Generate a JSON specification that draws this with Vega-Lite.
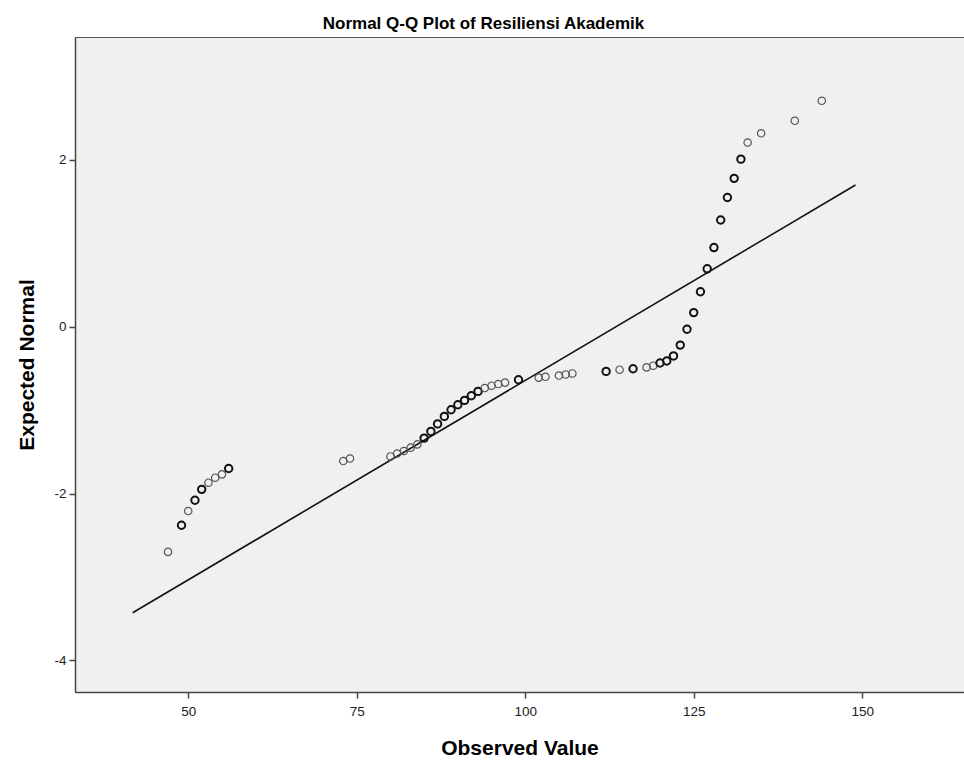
{
  "$schema": "https://vega.github.io/schema/vega-lite/v6.json",
  "autosize": {"type": "none"},
  "width": 889,
  "height": 655,
  "padding": {"left": 75, "top": 37, "right": 0, "bottom": 74},
  "background": "#ffffff",
  "title": {
    "text": "Normal Q-Q Plot of Resiliensi Akademik",
    "font": "Liberation Sans",
    "fontSize": 17,
    "fontWeight": "bold",
    "color": "#000000",
    "anchor": "middle",
    "dx": -36,
    "dy": 22,
    "baseline": "bottom",
    "offset": 9
  },
  "config": {
    "view": {"fill": "#f0f0f0", "stroke": "#555555", "strokeWidth": 1},
    "axis": {
      "grid": false,
      "labelFont": "Liberation Sans",
      "labelFontSize": 13.5,
      "labelColor": "#222222",
      "titleFont": "Liberation Sans",
      "titleFontSize": 21,
      "titleFontWeight": "bold",
      "titleColor": "#000000",
      "domainColor": "#444444",
      "domainWidth": 1.5,
      "tickColor": "#444444",
      "tickWidth": 1.5,
      "tickSize": 6
    }
  },
  "datasets": {
    "points": [
      {"observed": 47, "expected": -2.70, "cases": 1},
      {"observed": 49, "expected": -2.38, "cases": 2},
      {"observed": 50, "expected": -2.21, "cases": 1},
      {"observed": 51, "expected": -2.08, "cases": 2},
      {"observed": 52, "expected": -1.95, "cases": 2},
      {"observed": 53, "expected": -1.87, "cases": 1},
      {"observed": 54, "expected": -1.81, "cases": 1},
      {"observed": 55, "expected": -1.77, "cases": 1},
      {"observed": 56, "expected": -1.70, "cases": 2},
      {"observed": 73, "expected": -1.61, "cases": 1},
      {"observed": 74, "expected": -1.58, "cases": 1},
      {"observed": 80, "expected": -1.555, "cases": 1},
      {"observed": 81, "expected": -1.52, "cases": 1},
      {"observed": 82, "expected": -1.49, "cases": 1},
      {"observed": 83, "expected": -1.45, "cases": 1},
      {"observed": 84, "expected": -1.41, "cases": 1},
      {"observed": 85, "expected": -1.335, "cases": 2},
      {"observed": 86, "expected": -1.255, "cases": 2},
      {"observed": 87, "expected": -1.165, "cases": 2},
      {"observed": 88, "expected": -1.075, "cases": 2},
      {"observed": 89, "expected": -0.995, "cases": 2},
      {"observed": 90, "expected": -0.935, "cases": 2},
      {"observed": 91, "expected": -0.883, "cases": 2},
      {"observed": 92, "expected": -0.827, "cases": 2},
      {"observed": 93, "expected": -0.775, "cases": 2},
      {"observed": 94, "expected": -0.735, "cases": 1},
      {"observed": 95, "expected": -0.707, "cases": 1},
      {"observed": 96, "expected": -0.687, "cases": 1},
      {"observed": 97, "expected": -0.67, "cases": 1},
      {"observed": 99, "expected": -0.635, "cases": 2},
      {"observed": 102, "expected": -0.61, "cases": 1},
      {"observed": 103, "expected": -0.60, "cases": 1},
      {"observed": 105, "expected": -0.585, "cases": 1},
      {"observed": 106, "expected": -0.572, "cases": 1},
      {"observed": 107, "expected": -0.56, "cases": 1},
      {"observed": 112, "expected": -0.535, "cases": 2},
      {"observed": 114, "expected": -0.515, "cases": 1},
      {"observed": 116, "expected": -0.503, "cases": 2},
      {"observed": 118, "expected": -0.487, "cases": 1},
      {"observed": 119, "expected": -0.467, "cases": 1},
      {"observed": 120, "expected": -0.435, "cases": 2},
      {"observed": 121, "expected": -0.41, "cases": 2},
      {"observed": 122, "expected": -0.35, "cases": 2},
      {"observed": 123, "expected": -0.22, "cases": 2},
      {"observed": 124, "expected": -0.03, "cases": 2},
      {"observed": 125, "expected": 0.17, "cases": 2},
      {"observed": 126, "expected": 0.42, "cases": 2},
      {"observed": 127, "expected": 0.695, "cases": 2},
      {"observed": 128, "expected": 0.95, "cases": 2},
      {"observed": 129, "expected": 1.28, "cases": 2},
      {"observed": 130, "expected": 1.55, "cases": 2},
      {"observed": 131, "expected": 1.78, "cases": 2},
      {"observed": 132, "expected": 2.01, "cases": 2},
      {"observed": 133, "expected": 2.21, "cases": 1},
      {"observed": 135, "expected": 2.32, "cases": 1},
      {"observed": 140, "expected": 2.47, "cases": 1},
      {"observed": 144, "expected": 2.71, "cases": 1}
    ],
    "refline": [
      {"observed": 41.75, "expected": -3.43},
      {"observed": 149.0, "expected": 1.70}
    ]
  },
  "layer": [
    {
      "data": {"name": "refline"},
      "mark": {"type": "line", "color": "#111111", "strokeWidth": 1.6, "clip": true},
      "encoding": {
        "x": {"field": "observed", "type": "quantitative"},
        "y": {"field": "expected", "type": "quantitative"}
      }
    },
    {
      "data": {"name": "points"},
      "mark": {"type": "point", "shape": "circle", "filled": false, "size": 55, "clip": true, "opacity": 1},
      "encoding": {
        "x": {
          "field": "observed",
          "type": "quantitative",
          "scale": {"domain": [33.2, 165.1], "nice": false, "zero": false},
          "axis": {"values": [50, 75, 100, 125, 150], "format": "d", "title": "Observed Value", "titleY": 56, "titleBaseline": "middle", "labelPadding": 6}
        },
        "y": {
          "field": "expected",
          "type": "quantitative",
          "scale": {"domain": [-4.38, 3.475], "nice": false, "zero": false},
          "axis": {"values": [-4, -2, 0, 2], "labelExpr": "'' + datum.value", "title": "Expected Normal", "titleX": -48, "titleBaseline": "middle", "labelPadding": 3}
        },
        "stroke": {
          "field": "cases",
          "type": "quantitative",
          "scale": {"type": "threshold", "domain": [2], "range": ["#555555", "#111111"]},
          "legend": null
        },
        "strokeWidth": {
          "field": "cases",
          "type": "quantitative",
          "scale": {"type": "threshold", "domain": [2], "range": [1.2, 2.0]},
          "legend": null
        }
      }
    }
  ]
}
